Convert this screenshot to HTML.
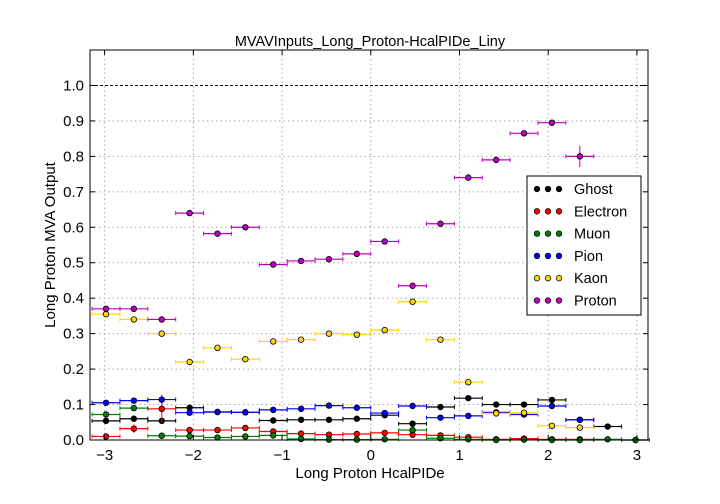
<!DOCTYPE html>
<html><head><meta charset="utf-8"><style>
body{margin:0;background:#fff}
svg{display:block;font-family:"Liberation Sans","DejaVu Sans",sans-serif}
</style></head><body>
<svg id="chart" width="720" height="504">
<rect width="720" height="504" fill="#fff"/>
<g id="grid"></g>
<g id="marks"></g>
<rect x="90" y="50" width="558" height="390" fill="none" stroke="#000" stroke-width="1"/>
<g id="axes"></g>
<text x="370" y="46" text-anchor="middle" font-size="14.5">MVAVInputs_Long_Proton-HcalPIDe_Liny</text>
<text x="370" y="478" text-anchor="middle" font-size="15">Long Proton HcalPIDe</text>
<text transform="translate(55,245) rotate(-90)" text-anchor="middle" font-size="15">Long Proton MVA Output</text>
<g id="legend"></g>
</svg>
<script>
const nBins = 20;
const xTicks = [-3,-2,-1,0,1,2,3];
const yTicks = [0,0.1,0.2,0.3,0.4,0.5,0.6,0.7,0.8,0.9,1.0];
const seriesNames = ["Ghost","Electron","Muon","Pion","Kaon","Proton"];
const seriesColors = ["#000000","#ff0000","#007f00","#0000ff","#ffd700","#bf00bf"];
const ghost = [0.054,0.06,0.054,0.091,0.079,0.078,0.055,0.057,0.057,0.06,0.07,0.046,0.093,0.118,0.1,0.1,0.113,0.057,0.038,0];
const electron = [0.01,0.032,0.088,0.028,0.028,0.034,0.024,0.018,0.015,0.017,0.02,0.015,0.013,0.008,0.002,0.004,0.002,0.002,null,null];
const muon = [0.072,0.09,0.012,0.011,0.007,0.01,0.013,0.003,0.001,0.001,0.002,0.028,0.005,0.002,0,0.001,0,0,0.002,0];
const pion = [0.105,0.111,0.114,0.077,0.079,0.078,0.085,0.088,0.097,0.091,0.076,0.096,0.063,0.068,0.078,0.072,0.096,0.057,null,null];
const kaon = [0.355,0.34,0.30,0.22,0.26,0.228,0.278,0.283,0.30,0.297,0.31,0.39,0.283,0.163,0.075,0.077,0.04,0.035,null,null];
const proton = [0.37,0.37,0.34,0.64,0.582,0.60,0.495,0.505,0.51,0.525,0.56,0.435,0.61,0.74,0.79,0.865,0.895,0.80,null,null];
const electronErr = [0.004,0.012,0.04,0.004,0.004,0.004,0.004,0.003,0.003,0.003,0.003,0.003,0.003,0.003,0.002,0.002,0.002,0.002,0,0];
const protonErr = [0.008,0.006,0.006,0.006,0.005,0.005,0.005,0.005,0.005,0.005,0.005,0.005,0.005,0.006,0.006,0.006,0.008,0.03,0,0];
const allSeries = [ghost,electron,muon,pion,kaon,proton];
const allErr = [null,electronErr,null,null,null,protonErr];

const NS="http://www.w3.org/2000/svg";
const X0=90,X1=648,Y0=440,Y1=50;
const xMin=-3.165,xMax=3.125,yMin=0,yMax=1.1;
const binStart=-Math.PI,binEnd=Math.PI;
const xs=v=>X0+(v-xMin)/(xMax-xMin)*(X1-X0);
const ys=v=>Y0-(v-yMin)/(yMax-yMin)*(Y0-Y1);
const bw=(binEnd-binStart)/nBins;
function mk(tag,attrs,parent){const e=document.createElementNS(NS,tag);for(const k in attrs)e.setAttribute(k,attrs[k]);parent.appendChild(e);return e;}
const grid=document.getElementById('grid'),axes=document.getElementById('axes'),marks=document.getElementById('marks'),legend=document.getElementById('legend');
xTicks.forEach(t=>{const x=xs(t);
 let g=mk('line',{x1:x,x2:x,y1:Y1,y2:Y0,stroke:'#aaa','stroke-dasharray':'1.5,3'},grid);
 
 mk('line',{x1:x,x2:x,y1:Y0,y2:Y0-5,stroke:'#000'},axes);mk('line',{x1:x,x2:x,y1:Y1,y2:Y1+5,stroke:'#000'},axes);
 let tx=mk('text',{x:x,y:Y0+20,'text-anchor':'middle','font-size':15},axes);tx.textContent=(t<0?'\u2212':'')+Math.abs(t);
 });
yTicks.forEach(t=>{const y=ys(t);
 let g=mk('line',{x1:X0,x2:X1,y1:y,y2:y,stroke:t===1?'#000':'#aaa','stroke-dasharray':t===1?'3,2':'1.5,3'},grid);
 
 mk('line',{x1:X0,x2:X0+5,y1:y,y2:y,stroke:'#000'},axes);mk('line',{x1:X1,x2:X1-5,y1:y,y2:y,stroke:'#000'},axes);
 let tx=mk('text',{x:X0-6,y:y+5,'text-anchor':'end','font-size':15},axes);tx.textContent=t.toFixed(1);
 });
allSeries.forEach((s,si)=>{const c=seriesColors[si];
 const g=mk('g',{},marks);
 s.forEach((v,i)=>{if(v===null)return;const cx=binStart+(i+0.5)*bw,y=ys(v);
  mk('line',{x1:xs(cx-bw/2),x2:xs(cx+bw/2),y1:y,y2:y,stroke:c,'stroke-width':1.2},g);
  mk('line',{x1:xs(cx-bw/2),x2:xs(cx-bw/2),y1:y-2,y2:y+2,stroke:c},g);
  mk('line',{x1:xs(cx+bw/2),x2:xs(cx+bw/2),y1:y-2,y2:y+2,stroke:c},g);
  const e=allErr[si]?allErr[si][i]:0.003;
  mk('line',{x1:xs(cx),x2:xs(cx),y1:ys(v+e),y2:ys(Math.max(0,v-e)),stroke:c},g);
  const p=mk('circle',{cx:xs(cx),cy:y,r:2.8,fill:c,stroke:'#000','stroke-width':0.8},g);
  });});
mk('rect',{x:527,y:176,width:114,height:139,fill:'#fff',stroke:'#000'},legend);
seriesNames.forEach((n,i)=>{const y=189+i*22.3;
 const g=mk('g',{},legend);
 [537,548,559].forEach(x=>mk('circle',{cx:x,cy:y,r:2.8,fill:seriesColors[i],stroke:'#000','stroke-width':0.7},g));
 const t=mk('text',{x:574,y:y+5,'font-size':14.5},g);t.textContent=n;});
</script>
</body></html>
